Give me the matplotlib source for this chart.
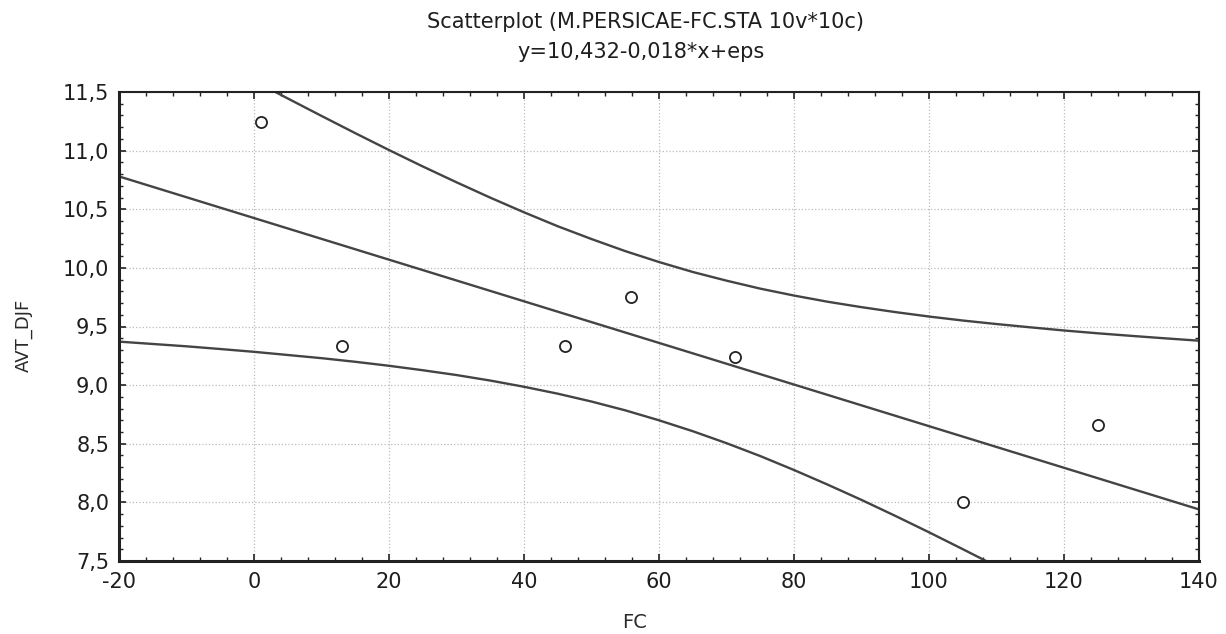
import matplotlib
matplotlib.use("Agg")
import matplotlib.pyplot as plt
from matplotlib.ticker import MultipleLocator, FuncFormatter

### Data
# Observed cases (FC, AVT_DJF)
fc = [1.1, 13.1, 46.0, 55.9, 71.3, 105.1, 125.1]
avt_djf = [11.24, 9.33, 9.33, 9.75, 9.24, 8.00, 8.66]

# Fitted line y=10,432-0,018*x, read at the axis ends
line_x = [-20, 140]
line_y = [10.78, 7.94]

# Confidence band, read every 5 units of FC
upper_x = [-20, -15, -10, -5, 0, 5, 10, 15, 20, 25, 30, 35, 40, 45, 50, 55, 60,
           65, 70, 75, 80, 85, 90, 95, 100, 105, 110, 115, 120, 125, 130, 135, 140]
band_upper = [12.219, 12.061, 11.905, 11.750, 11.596, 11.445, 11.296, 11.149,
              11.005, 10.865, 10.730, 10.599, 10.474, 10.355, 10.246, 10.143,
              10.050, 9.965, 9.891, 9.823, 9.764, 9.711, 9.665, 9.623, 9.585,
              9.551, 9.521, 9.493, 9.466, 9.442, 9.420, 9.399, 9.379]
lower_x = [-20, -15, -10, -5, 0, 5, 10, 15, 20, 25, 30, 35, 40, 45, 50, 55, 60,
           65, 70, 75, 80, 85, 90, 95, 100, 105, 110, 115]
band_lower = [9.371, 9.351, 9.331, 9.308, 9.284, 9.257, 9.230, 9.199, 9.165,
              9.127, 9.086, 9.039, 8.986, 8.927, 8.860, 8.785, 8.700, 8.607,
              8.505, 8.395, 8.276, 8.151, 8.021, 7.885, 7.745, 7.601, 7.455, 7.305]

title_1 = "Scatterplot (M.PERSICAE-FC.STA 10v*10c)"
title_2 = "y=10,432-0,018*x+eps"

plt.rcParams['font.family'] = ['DejaVu Sans']

fig = plt.figure(figsize=(12.26, 6.34), dpi=100)
# axes box placed in pixels: left 119, right 1199, top 92, bottom 561
ax = fig.add_axes([119 / 1226, 1 - 561 / 634, (1199 - 119) / 1226, (561 - 92) / 634])

line_col = '#444444'
ax.plot(line_x, line_y, color=line_col, lw=1.7)
ax.plot(upper_x, band_upper, color=line_col, lw=1.7)
ax.plot(lower_x, band_lower, color=line_col, lw=1.7)
ax.plot(fc, avt_djf, 'o', ms=8, mfc='white', mec='#222222', mew=1.3, ls='none')

ax.set_xlim(-20, 140)
ax.set_ylim(7.5, 11.5)
ax.xaxis.set_major_locator(MultipleLocator(20))
ax.xaxis.set_minor_locator(MultipleLocator(4))
ax.yaxis.set_major_locator(MultipleLocator(0.5))
ax.yaxis.set_minor_locator(MultipleLocator(0.1))
# comma as decimal sign, like the original
ax.yaxis.set_major_formatter(FuncFormatter(lambda v, p: f"{v:.1f}".replace('.', ',')))
ax.xaxis.set_major_formatter(FuncFormatter(lambda v, p: f"{v:.0f}"))

ax.tick_params(which='both', direction='in', top=True, right=True, colors='#222222',
               labelsize=15, labelcolor='#1e1e1e')
ax.tick_params(which='major', length=5, width=1.2)
ax.tick_params(which='minor', length=3, width=1)
ax.tick_params(axis='y', pad=7)
ax.tick_params(axis='x', pad=8)

ax.grid(True, which='major', color='#bbbbbb', ls=':', lw=0.9)
for side in ['left', 'bottom']:
    ax.spines[side].set_linewidth(2.2)
for side in ['top', 'right']:
    ax.spines[side].set_linewidth(1.5)
for s in ax.spines.values():
    s.set_color('#222222')

fig.text(645 / 1226, 1 - 22 / 634, title_1, ha='center', va='center', fontsize=15, color='#1e1e1e')
fig.text(641 / 1226, 1 - 52 / 634, title_2, ha='center', va='center', fontsize=15, color='#1e1e1e')
fig.text(24 / 1226, 1 - 335 / 634, "AVT_DJF", rotation=90, ha='center', va='center',
         fontsize=13, color='#2a2a2a')
fig.text(635 / 1226, 1 - 623 / 634, "FC", ha='center', va='center', fontsize=14, color='#2a2a2a')

fig.savefig('out.png', dpi=100, facecolor='white')
